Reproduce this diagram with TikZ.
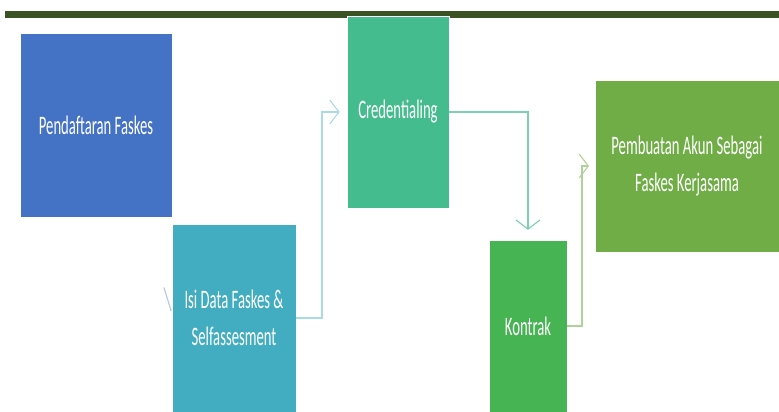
\documentclass[tikz,border=0pt]{standalone}
\usepackage{fontspec}
\usetikzlibrary{arrows.meta}
\newfontfamily\boxfont[FakeStretch=0.55]{Carlito}

\definecolor{barcol}{HTML}{3B5323}
\definecolor{daftar}{HTML}{4472C4}
\definecolor{isidata}{HTML}{42ADC0}
\definecolor{kredensial}{HTML}{45BC8D}
\definecolor{kontrak}{HTML}{47B454}
\definecolor{akun}{HTML}{70AD47}

\begin{document}
\begin{tikzpicture}[x=0.025cm, y=-0.025cm,
                    flow/.style={line width=0.8pt, -{Straight Barb[length=6.5pt,width=17pt]}}]
	  \tikzset{stepbox/.style={rectangle, fill=#1, draw=white, line width=0.4pt, text=white,
	           align=center, inner sep=0pt, font=\boxfont\fontsize{19}{26}\selectfont}}

	  \useasboundingbox (0,0) rectangle (779,412);
	  \fill[barcol] (5,11) rectangle (779,18);

	  \node[stepbox=daftar, minimum width=3.8cm, minimum height=4.6cm]      (daftar)  at (96,125)  {Pendaftaran Faskes};
	  \node[stepbox=isidata, minimum width=3.1cm, minimum height=4.7cm]     (isi)     at (234,318) {Isi Data Faskes \&\\Selfassesment};
	  \node[stepbox=kredensial, minimum width=2.55cm, minimum height=4.8cm] (kred)    at (398,112) {Credentialing};
	  \node[stepbox=kontrak, minimum width=1.95cm, minimum height=4.3cm]    (kontrak) at (528,326) {Kontrak};
	  \node[stepbox=akun, minimum width=4.6cm, minimum height=4.3cm]        (akun)    at (687,166) {Pembuatan Akun Sebagai\\Faskes Kerjasama};

	  % bends of the connectors
	  \coordinate (k1) at (170,310);
	  \coordinate (k2) at (322,112);
	  \coordinate (k4) at (582,166);

	  \draw[line width=0.8pt, daftar!40, -{Straight Barb[harpoon,length=5pt,width=32pt]}]
	       (k1) -- (isi.west |- k1);
	  \draw[flow, isidata!45, shorten >=5pt] (isi.east) -| (k2) -- (kred.west);
	  \draw[flow, kredensial!70, shorten >=7pt] (kred.east) -| (kontrak.north);
	  \draw[flow, akun!55, shorten >=4pt] (kontrak.east) -| (k4) -- (akun.west);
	\end{tikzpicture}
\end{document}
